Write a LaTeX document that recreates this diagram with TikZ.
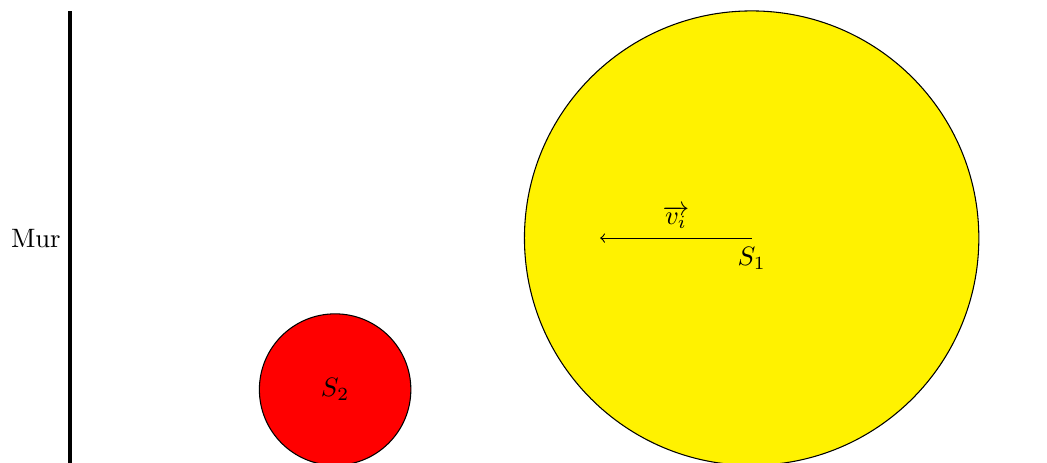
\documentclass[tikz,border=0pt]{standalone}
\begin{document}
\begin{tikzpicture}
\tikzset{
  ball/.style={circle, draw=black, inner sep=0pt},
  wallline/.style={very thick},
}
\useasboundingbox (-0.925,-2.96) rectangle (12.9,3.144);
\coordinate (wtop) at (0,3);
\coordinate (wbot) at (0,-3);
\draw[wallline] (wbot) -- (wtop);
\node[left] (mur) at (0,0) {Mur};
\node[ball, fill=yellow, minimum size=6cm] (s1) at (9,0) {};
\node[ball, fill=red, minimum size=2cm] (s2) at (3.5,-2) {$S_2$};
\coordinate (c1) at (9,0);
\coordinate (tip) at (7,0);
\draw[->] (c1) -- node[above] (vi) {$\overrightarrow{v_i}$} (tip);
\node[below] (lab1) at (c1) {$S_1$};
\end{tikzpicture}
\end{document}
